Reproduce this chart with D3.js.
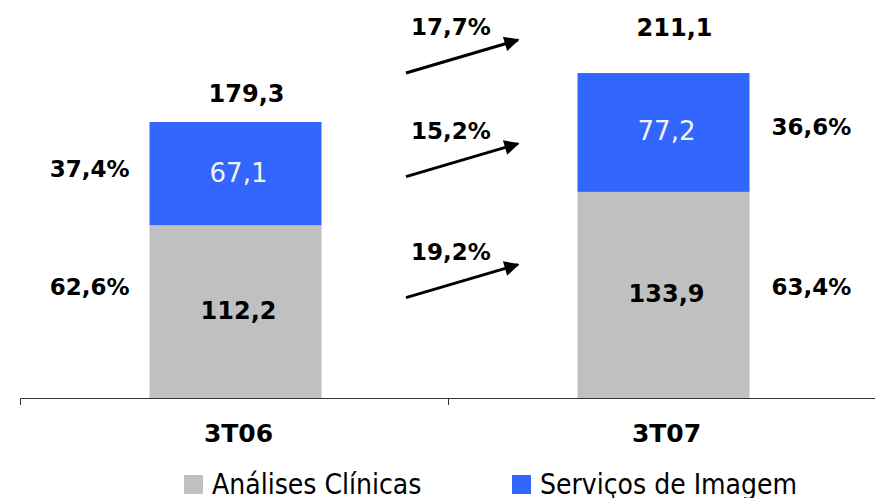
<!DOCTYPE html>
<html><head><meta charset="utf-8">
<script src="https://cdn.jsdelivr.net/npm/d3@7"></script>
<style>html,body{margin:0;padding:0;background:#fff;}svg{display:block;}</style>
</head><body>
<script>
const categories = ["3T06", "3T07"];
const analises = [112.2, 133.9];
const imagem = [67.1, 77.2];
const totals = [179.3, 211.1];
const pctAnalises = ["62,6%", "63,4%"];
const pctImagem = ["37,4%", "36,6%"];
const growthTotal = "17,7%";
const growthImagem = "15,2%";
const growthAnalises = "19,2%";
const seriesNames = ["Análises Clínicas", "Serviços de Imagem"];
const seriesColors = ["#C0C0C0", "#3366FF"];

const W = 875, H = 498;
const boldFont = "'DejaVu Sans', Verdana, sans-serif";
const legendFont = "'DejaVu Sans Condensed', 'DejaVu Sans', sans-serif";
const loc = d3.formatLocale({decimal: ",", thousands: ".", grouping: [3], currency: ["R$", ""]});
const fmt = loc.format(".1f");

const svg = d3.select("body").append("svg").attr("width", W).attr("height", H);

const x = d3.scaleBand().domain(categories).range([20, 876]).padding(0);
const y = d3.scaleLinear().domain([0, 258.56]).range([398, 0]);
const barW = 172;
const cx = c => x(c) + x.bandwidth() / 2 + 1.5;

const stackData = categories.map((c, i) => ({cat: c, a: analises[i], b: imagem[i]}));
const stack = d3.stack().keys(["a", "b"])(stackData);

svg.append("g").selectAll("g").data(stack).join("g")
  .attr("fill", (d, i) => seriesColors[i])
  .selectAll("rect").data(d => d).join("rect")
  .attr("x", d => cx(d.data.cat) - barW / 2)
  .attr("width", barW)
  .attr("y", d => y(d[1]))
  .attr("height", d => y(d[0]) - y(d[1]));

// axis
const axis = d3.axisBottom(x).tickSize(0).tickFormat(() => "");
const gAx = svg.append("g").attr("transform", "translate(0,398)").call(axis);
gAx.select(".domain").attr("stroke", "#333").attr("d", "M20.5,7V0.5H875.5");
gAx.selectAll(".tick").remove();
svg.append("line")
  .attr("x1", x(categories[1]) + 0.5).attr("x2", x(categories[1]) + 0.5)
  .attr("y1", 398).attr("y2", 405).attr("stroke", "#333");

// category labels
svg.append("g").selectAll("text").data(categories).join("text")
  .attr("x", d => cx(d) + 3).attr("y", 442)
  .attr("text-anchor", "middle")
  .style("font-family", boldFont).style("font-weight", "bold").style("font-size", "25px")
  .attr("fill", "#000").text(d => d);

// growth row positions
const mid = x(categories[1]);
const rows = [
  {t: growthTotal, yy: y(totals[0]) - 49},
  {t: growthImagem, yy: (y(analises[0]) + y(totals[0])) / 2 + 3},
  {t: growthAnalises, yy: (y(0) + y(analises[0])) / 2 - 14}
];

// totals (first above its bar, second aligned with the growth label row)
svg.append("g").selectAll("text").data(categories).join("text")
  .attr("x", (d, i) => cx(d) + 11)
  .attr("y", (d, i) => i === 0 ? y(totals[i]) - 20 : rows[0].yy - 37)
  .attr("text-anchor", "middle")
  .style("font-family", boldFont).style("font-weight", "bold").style("font-size", "24px")
  .attr("fill", "#000").text((d, i) => fmt(totals[i]));

// inside values
const inside = [];
categories.forEach((c, i) => {
  inside.push({c, v: analises[i], mid: (y(0) + y(analises[i])) / 2, color: "#000", bold: true});
  inside.push({c, v: imagem[i], mid: (y(analises[i]) + y(totals[i])) / 2, color: "#F2F2F2", bold: false});
});
svg.append("g").selectAll("text").data(inside).join("text")
  .attr("x", d => cx(d.c) + 3).attr("y", d => d.mid + (d.bold ? 7 : 8))
  .attr("text-anchor", "middle")
  .style("font-family", boldFont).style("font-weight", d => d.bold ? "bold" : "normal")
  .style("font-size", d => d.bold ? "24px" : "26px")
  .attr("fill", d => d.color).text(d => fmt(d.v));

// percentage labels
const pcts = [];
categories.forEach((c, i) => {
  const side = i === 0 ? -1 : 1;
  pcts.push({c, i, side, t: pctImagem[i], yy: (y(analises[i]) + y(totals[i])) / 2 + 3});
  pcts.push({c, i, side, t: pctAnalises[i], yy: (y(0) + y(analises[0])) / 2 - 17});
});
svg.append("g").selectAll("text").data(pcts).join("text")
  .attr("x", d => d.side < 0 ? cx(d.c) - barW / 2 - 20 : cx(d.c) + barW / 2 + 22)
  .attr("y", d => d.yy)
  .attr("text-anchor", d => d.side < 0 ? "end" : "start")
  .style("font-family", boldFont).style("font-weight", "bold").style("font-size", "23px")
  .attr("fill", "#000").text(d => d.t);

// growth arrows
svg.append("defs").append("marker")
  .attr("id", "ah").attr("viewBox", "0 0 10 10").attr("refX", 9).attr("refY", 5)
  .attr("markerWidth", 6).attr("markerHeight", 5).attr("markerUnits", "strokeWidth")
  .attr("orient", "auto")
  .append("path").attr("d", "M0,0L10,5L0,10Z").attr("fill", "#000");

const gA = svg.append("g");
gA.selectAll("line").data(rows).join("line")
  .attr("x1", mid - 42).attr("y1", d => d.yy)
  .attr("x2", mid + 70).attr("y2", d => d.yy - 33)
  .attr("stroke", "#000").attr("stroke-width", 3)
  .attr("marker-end", "url(#ah)");
gA.selectAll("text").data(rows).join("text")
  .attr("x", mid - 37).attr("y", d => d.yy - 38)
  .style("font-family", boldFont).style("font-weight", "bold").style("font-size", "23px")
  .attr("fill", "#000").text(d => d.t);

// legend
const legX = [184, 512];
const lg = svg.append("g").selectAll("g").data(seriesNames).join("g")
  .attr("transform", (d, i) => `translate(${legX[i]},475)`);
lg.append("rect").attr("width", 19).attr("height", 19).attr("fill", (d, i) => seriesColors[i]);
lg.append("text").attr("x", 28).attr("y", 19)
  .style("font-family", legendFont).style("font-size", "28px")
  .attr("fill", "#000").text(d => d);
</script>
</body></html>
